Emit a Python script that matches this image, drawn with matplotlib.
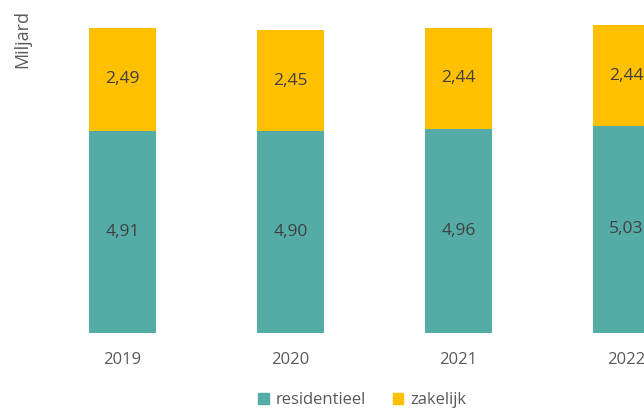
import numpy as np
import matplotlib.pyplot as plt
from matplotlib.patches import Patch

# Data
years = ['2019', '2020', '2021', '2022']
residentieel = [4.91, 4.90, 4.96, 5.03]
zakelijk = [2.49, 2.45, 2.44, 2.44]

TEAL = '#55aca7'
GOLD = '#ffc000'
TEXT = '#404040'
FONT = 'Open Sans'

fig = plt.figure(figsize=(6.44, 4.09), dpi=100)
# axes deliberately spans to the right edge so the last bar is cut off
ax = fig.add_axes([0, 76 / 409, 1, 333 / 409])

x = np.arange(len(years))
w = 0.4
ax.bar(x, residentieel, width=w, color=TEAL)
ax.bar(x, zakelijk, width=w, bottom=residentieel, color=GOLD)

for i in range(len(years)):
    ax.text(x[i], residentieel[i] / 2, f'{residentieel[i]:.2f}'.replace('.', ','),
            ha='center', va='center', fontsize=12.5, color=TEXT, family=FONT)
    ax.text(x[i], residentieel[i] + zakelijk[i] / 2, f'{zakelijk[i]:.2f}'.replace('.', ','),
            ha='center', va='center', fontsize=12.5, color=TEXT, family=FONT)

ax.set_xlim(-122.5 / 168, 644 / 168 - 122.5 / 168)
ax.set_ylim(0, 333 / 41.2)
ax.set_xticks(x)
ax.set_xticklabels(years, fontsize=12, color='#595959', family=FONT)
ax.tick_params(axis='x', length=0, pad=14)
ax.set_yticks([])
for s in ax.spines.values():
    s.set_visible(False)

fig.text(22 / 644, 1 - 39 / 409, 'Miljard', rotation=90, ha='center', va='center',
         fontsize=13, color='#595959', family=FONT)

handles = [Patch(color=TEAL, label='residentieel'), Patch(color=GOLD, label='zakelijk')]
fig.legend(handles=handles, loc='center', bbox_to_anchor=(362 / 644, 1 - 400 / 409),
           ncol=2, frameon=False, handlelength=0.65, handleheight=0.65, handletextpad=0.4,
           columnspacing=1.6, prop={'family': FONT, 'size': 12}, labelcolor='#595959')

fig.savefig('out.png', dpi=100)
